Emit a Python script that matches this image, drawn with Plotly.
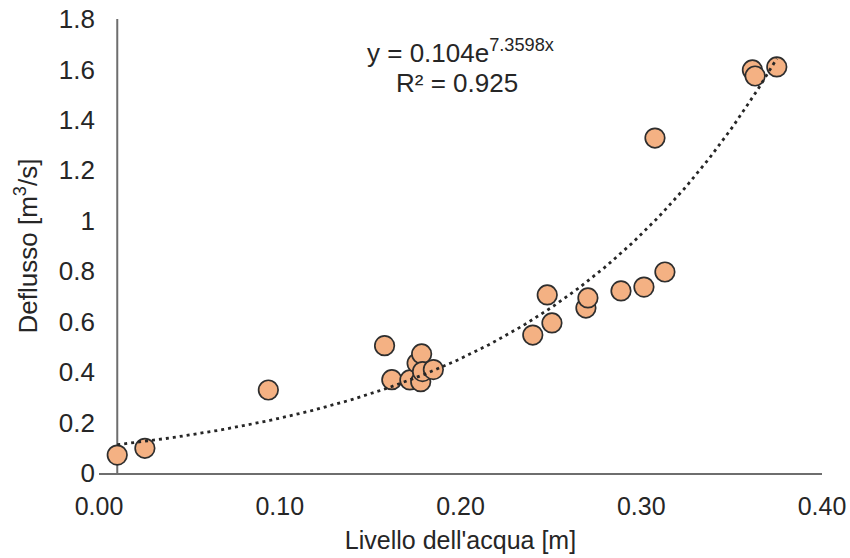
import numpy as np
import plotly.graph_objects as go

# Data
livello = [0.0101, 0.0254, 0.0937, 0.1580, 0.1620, 0.1720, 0.1760, 0.1780, 0.1785, 0.1790, 0.1850,
           0.2400, 0.2480, 0.2506, 0.2694, 0.2705, 0.2888, 0.3015, 0.3076, 0.3131, 0.3615, 0.3630, 0.3750]
deflusso = [0.071, 0.098, 0.329, 0.505, 0.370, 0.369, 0.435, 0.362, 0.472, 0.402, 0.410,
            0.547, 0.706, 0.595, 0.654, 0.694, 0.722, 0.737, 1.328, 0.797, 1.598, 1.574, 1.610]

# Exponential trendline parameters (from the chart's equation)
fit_a = 0.104
fit_b = 7.3598
r2 = 0.925

y_ticks = [0, 0.2, 0.4, 0.6, 0.8, 1.0, 1.2, 1.4, 1.6, 1.8]
x_ticks = [0.0, 0.1, 0.2, 0.3, 0.4]
y_axis_cross = 0.0101

FONT = "Liberation Sans, Arial, sans-serif"
TXT = "#262626"
AXC = "#6e6e6e"

xs = np.linspace(min(livello), max(livello), 200)
ys = fit_a * np.exp(fit_b * xs)

fig = go.Figure()
fig.add_trace(go.Scatter(
    x=livello, y=deflusso, mode="markers",
    marker=dict(size=19.5, color="#F4B183", line=dict(color="#2e2e2e", width=1.7)),
    showlegend=False, hoverinfo="x+y"))
fig.add_trace(go.Scatter(
    x=xs, y=ys, mode="lines",
    line=dict(color="#262626", width=2.8, dash="3px,4px"),
    showlegend=False, hoverinfo="skip"))

# vertical axis line (crosses the horizontal axis slightly right of 0)
fig.add_shape(type="line", xref="x", yref="y", x0=y_axis_cross, x1=y_axis_cross,
              y0=-0.015, y1=1.8, line=dict(color=AXC, width=2), layer="below")

fig.add_annotation(
    x=0.147, y=1.672, xref="x", yref="y", xanchor="left", yanchor="middle", showarrow=False,
    text=f"y = {fit_a}e<sup>{fit_b}x</sup>",
    font=dict(family=FONT, size=26, color=TXT))
fig.add_annotation(
    x=0.163, y=1.546, xref="x", yref="y", xanchor="left", yanchor="middle", showarrow=False,
    text=f"R² = {r2}",
    font=dict(family=FONT, size=26, color=TXT))

fig.update_layout(
    width=850, height=558,
    margin=dict(l=99, r=28, t=19, b=85),
    paper_bgcolor="white", plot_bgcolor="white",
    font=dict(family=FONT, color=TXT),
    xaxis=dict(range=[0, 0.4], tickvals=x_ticks, tickformat=".2f", automargin=False,
               showgrid=False, zeroline=False, showline=True, linecolor=AXC, linewidth=2,
               ticks="", tickfont=dict(size=25, color=TXT), ticklabelstandoff=10,
               title=dict(text="Livello dell'acqua [m]", font=dict(size=25, color=TXT), standoff=12)),
    yaxis=dict(range=[0, 1.8], tickvals=y_ticks, automargin=False,
               showgrid=False, zeroline=False, showline=False,
               ticks="", tickfont=dict(size=26, color=TXT), ticklabelstandoff=3,
               title=dict(text="Deflusso [m<sup>3</sup>/s]", font=dict(size=26, color=TXT), standoff=13)),
)

# remove the default page margin so the 850x558 figure fills the window exactly
fig.write_html("out.html", config={"displayModeBar": False},
               post_script="document.body.style.margin='0';")
